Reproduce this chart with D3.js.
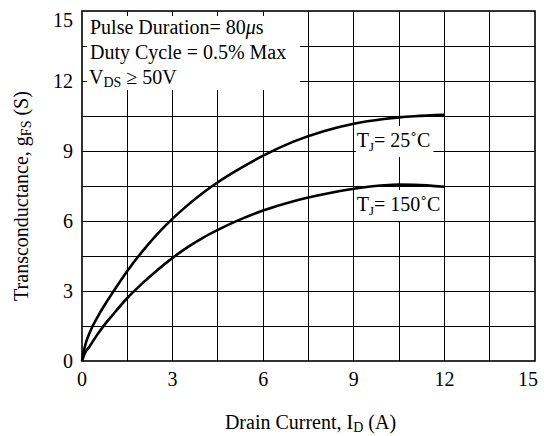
<!DOCTYPE html>
<html>
<head>
<meta charset="utf-8">
<script src="https://cdn.jsdelivr.net/npm/d3@7"></script>
<style>
  html, body { margin: 0; padding: 0; background: #fff; }
  svg text { font-family: "Liberation Serif", "Times New Roman", serif; fill: #000; }
</style>
</head>
<body>
<svg id="chart"></svg>
<script>
const width = 544,
  height = 436;

// drain current (A)
const drainCurrent = [0, 0.1, 0.25, 0.5, 0.75, 1, 1.5, 2, 2.5, 3, 3.5, 4, 4.5, 5, 6, 7, 8, 9, 10, 10.5, 11, 12];
// transconductance (S) at TJ = 25°C and 150°C
const gfs25 = [0, 0.65, 1.2, 1.85, 2.4, 2.9, 3.86, 4.7, 5.45, 6.1, 6.68, 7.2, 7.66, 8.07, 8.8, 9.4, 9.85, 10.17, 10.37, 10.44, 10.49, 10.55];
const gfs150 = [0, 0.35, 0.62, 1.12, 1.56, 1.95, 2.7, 3.33, 3.9, 4.42, 4.88, 5.28, 5.62, 5.93, 6.45, 6.85, 7.15, 7.38, 7.53, 7.56, 7.55, 7.47];

const tickValues = [0, 3, 6, 9, 12, 15];
const gridValues = [1.5, 3, 4.5, 6, 7.5, 9, 10.5, 12, 13.5];

const margin = {left: 82, right: 9, top: 11, bottom: 75};

const x = d3.scaleLinear().domain([0, 15]).range([margin.left, width - margin.right]);
const y = d3.scaleLinear().domain([0, 15]).range([height - margin.bottom, margin.top]);

const svg = d3.select('#chart')
  .attr('width', width)
  .attr('height', height);

// grid
const grid = svg.append('g')
  .attr('stroke', '#000')
  .attr('stroke-width', 1)
  .attr('shape-rendering', 'crispEdges');

grid.selectAll('line.v')
  .data(gridValues)
  .join('line')
  .attr('class', 'v')
  .attr('x1', d => x(d)).attr('x2', d => x(d))
  .attr('y1', y(0)).attr('y2', y(15));

grid.selectAll('line.h')
  .data(gridValues)
  .join('line')
  .attr('class', 'h')
  .attr('y1', d => y(d)).attr('y2', d => y(d))
  .attr('x1', x(0)).attr('x2', x(15));

// conditions box covers the grid top-left
svg.append('rect')
  .attr('x', x(0) + 1)
  .attr('y', y(15) + 1)
  .attr('width', 300 - x(0) - 1)
  .attr('height', 89 - y(15))
  .attr('fill', '#fff');

// small inward ticks on the frame
const ticks = svg.append('g')
  .attr('stroke', '#000')
  .attr('stroke-width', 1)
  .attr('shape-rendering', 'crispEdges');

ticks.selectAll('line.t')
  .data(gridValues)
  .join('line')
  .attr('class', 't')
  .attr('x1', d => x(d)).attr('x2', d => x(d))
  .attr('y1', y(15)).attr('y2', y(15) + 5);

ticks.selectAll('line.l')
  .data(gridValues)
  .join('line')
  .attr('class', 'l')
  .attr('y1', d => y(d)).attr('y2', d => y(d))
  .attr('x1', x(0)).attr('x2', x(0) + 5);

// curves
const line = d3.line()
  .x(d => x(d[0]))
  .y(d => y(d[1]))
  .curve(d3.curveMonotoneX);

[gfs25, gfs150].forEach(series => {
  svg.append('path')
    .datum(drainCurrent.map((c, i) => [c, series[i]]))
    .attr('fill', 'none')
    .attr('stroke', '#000')
    .attr('stroke-width', 2.6)
    .attr('d', line);
});

// frame
svg.append('rect')
  .attr('x', x(0))
  .attr('y', y(15))
  .attr('width', x(15) - x(0))
  .attr('height', y(0) - y(15))
  .attr('fill', 'none')
  .attr('stroke', '#000')
  .attr('stroke-width', 1.6);

// tick labels
svg.append('g')
  .selectAll('text')
  .data(tickValues)
  .join('text')
  .attr('x', d => Math.min(x(d), width - 16))
  .attr('y', y(0) + 25)
  .attr('text-anchor', 'middle')
  .attr('font-size', 20)
  .text(d => d);

svg.append('g')
  .selectAll('text')
  .data(tickValues)
  .join('text')
  .attr('x', x(0) - 9)
  .attr('y', d => Math.max(y(d), y(15) + 9))
  .attr('dy', '0.35em')
  .attr('text-anchor', 'end')
  .attr('font-size', 20)
  .text(d => d);

// conditions text
const cond = svg.append('g').attr('font-size', 20);
cond.append('text').attr('x', 90).attr('y', 34)
  .html('Pulse Duration= 80<tspan font-style="italic">μ</tspan>s');
cond.append('text').attr('x', 90).attr('y', 59)
  .text('Duty Cycle = 0.5% Max');
cond.append('text').attr('x', 89).attr('y', 84)
  .html('V<tspan font-size="14" dy="3">DS</tspan><tspan dy="-3"> ≥ 50V</tspan>');

// curve labels with white backing
function curveLabel(tx, ty, temp) {
  const g = svg.append('g');
  const t = g.append('text')
    .attr('x', tx)
    .attr('y', ty)
    .attr('font-size', 20)
    .html(`T<tspan font-size="13" dy="4">J</tspan><tspan dy="-4">= ${temp}˚C</tspan>`);
  const b = t.node().getBBox();
  g.insert('rect', 'text')
    .attr('x', b.x - 1)
    .attr('y', b.y - 3)
    .attr('width', b.width + 4)
    .attr('height', b.height + 6)
    .attr('fill', '#fff');
}
curveLabel(x(9) + 3, y(9) - 4, 25);
curveLabel(x(9) + 3, y(7.5) + 25, 150);

// axis titles
svg.append('text')
  .attr('x', (x(0) + x(15)) / 2 + 2)
  .attr('y', height - 7)
  .attr('text-anchor', 'middle')
  .attr('font-size', 20)
  .html('Drain Current, I<tspan font-size="14" dy="3">D</tspan><tspan dy="-3"> (A)</tspan>');

svg.append('text')
  .attr('transform', `translate(28,${(y(0) + y(15)) / 2 + 10}) rotate(-90)`)
  .attr('text-anchor', 'middle')
  .attr('font-size', 20)
  .html('Transconductance, g<tspan font-size="14" dy="3">FS</tspan><tspan dy="-3"> (S)</tspan>');
</script>
</body>
</html>
